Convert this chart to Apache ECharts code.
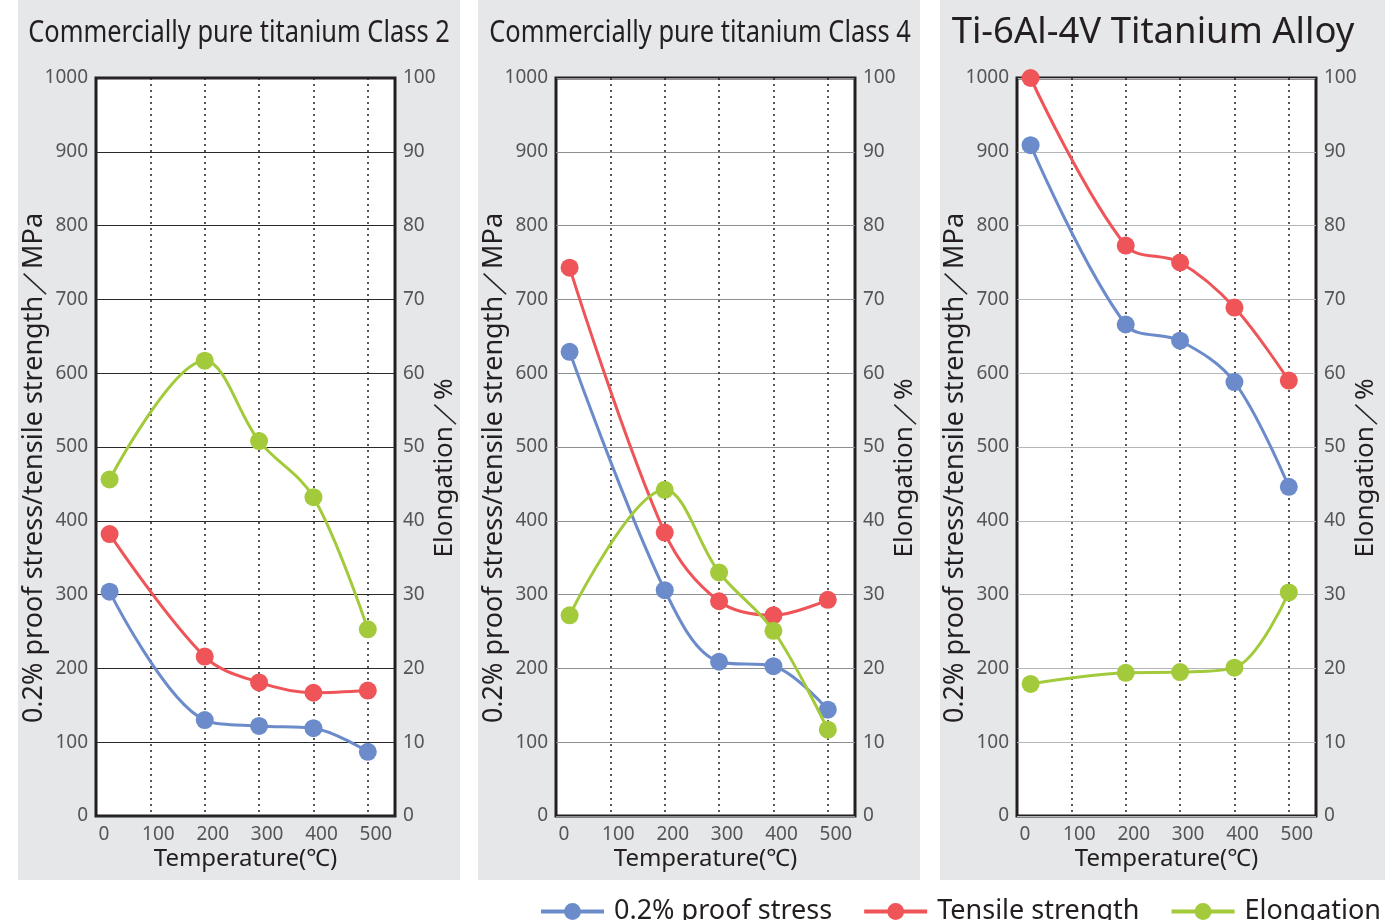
<!DOCTYPE html>
<html><head><meta charset="utf-8">
<script src="https://cdn.jsdelivr.net/npm/echarts@6/dist/echarts.min.js"></script>
<style>html,body{margin:0;padding:0;background:#fff}#c{width:1385px;height:920px}</style>
</head><body><div id="c"></div>
<script>
const temps = [25, 200, 300, 400, 500];
const titles = ['Commercially pure titanium Class 2', 'Commercially pure titanium Class 4', 'Ti-6Al-4V Titanium Alloy'];
const seriesNames = ['0.2% proof stress', 'Tensile strength', 'Elongation'];
// Class 2
const proof2 = [304, 130, 122, 119, 87];
const tensile2 = [382, 216, 181, 167, 170];
const elong2 = [45.6, 61.7, 50.8, 43.2, 25.3];
// Class 4
const proof4 = [629, 306, 209, 203, 144];
const tensile4 = [743, 384, 291, 272, 293];
const elong4 = [27.2, 44.2, 33.0, 25.1, 11.7];
// Ti-6Al-4V
const proofA = [909, 666, 644, 588, 446];
const tensileA = [1000, 773, 750, 689, 590];
const elongA = [17.9, 19.4, 19.5, 20.1, 30.3];
const xTicks = [0, 100, 200, 300, 400, 500];
const leftTicks = [0, 100, 200, 300, 400, 500, 600, 700, 800, 900, 1000];
const rightTicks = [0, 10, 20, 30, 40, 50, 60, 70, 80, 90, 100];

const panels = [
  {proof: proof2, tensile: tensile2, elong: elong2},
  {proof: proof4, tensile: tensile4, elong: elong4},
  {proof: proofA, tensile: tensileA, elong: elongA}
];
const colors = ['#6B8BCB', '#EE5458', '#A2CA3A'];
const gridLefts = [96, 556, 1017];
const hLineColors = ['#2a2a2a', '#8c8f93', '#b3b7bb'];
const bgLefts = [18, 478, 940];
const bgWidths = [442, 442, 445];
const titleCenters = [239, 700, 1153];

const chart = echarts.init(document.getElementById('c'));
const grids = [], xAxes = [], yAxes = [], series = [], graphics = [];
const labelFont = 'Noto Sans, DejaVu Sans, sans-serif';

panels.forEach((p, i) => {
  graphics.push({type: 'rect', left: bgLefts[i], top: 0, shape: {width: bgWidths[i], height: 880}, style: {fill: '#E6E7E9'}, z: -10});
  graphics.push({
    type: 'text', x: titleCenters[i], y: 33, scaleX: i === 2 ? 1 : 0.848, z: 10,
    style: {text: titles[i], textAlign: 'center', textVerticalAlign: 'middle',
      font: (i === 2 ? '36.5px' : '30px') + ' "Noto Sans", "DejaVu Sans", sans-serif', fill: '#231f20'}
  });
  grids.push({left: gridLefts[i], top: 78, width: 299, height: 738, show: true, backgroundColor: '#fff', borderColor: '#231f20', borderWidth: 3, z: 0});
  xAxes.push({
    type: 'value', gridIndex: i, min: 0, max: 550, interval: 100,
    name: 'Temperature(℃)', nameLocation: 'middle', nameGap: 31, nameMoveOverlap: false,
    nameTextStyle: {fontFamily: labelFont, fontSize: 24, color: '#231f20'},
    axisLine: {show: false}, axisTick: {show: false},
    axisLabel: {fontFamily: labelFont, fontSize: 19, color: '#555', margin: 9, padding: [0, 0, 0, 16],
      formatter: v => xTicks.includes(v) ? String(v) : ''},
    splitLine: {show: true, lineStyle: {color: '#231f20', type: [2, 4], width: 1.5}}
  });
  yAxes.push({
    type: 'value', gridIndex: i, min: 0, max: 1000, interval: 100, position: 'left',
    name: '0.2% proof stress/tensile strength／MPa', nameLocation: 'middle', nameGap: 48, nameMoveOverlap: false,
    nameTextStyle: {fontFamily: labelFont, fontSize: 27, color: '#231f20', padding: [0, 42, 0, 0]},
    axisLine: {show: false}, axisTick: {show: false},
    axisLabel: {fontFamily: labelFont, fontSize: 19, color: '#555', margin: 8,
      formatter: v => leftTicks.includes(v) ? String(v) : ''},
    splitLine: {show: true, lineStyle: {color: hLineColors[i], width: 1.2}}
  });
  yAxes.push({
    type: 'value', gridIndex: i, min: 0, max: 100, interval: 10, position: 'right',
    name: 'Elongation／%', nameLocation: 'middle', nameGap: 37, nameMoveOverlap: false,
    nameTextStyle: {fontFamily: labelFont, fontSize: 26, color: '#231f20', padding: [0, 42, 0, 0]},
    axisLine: {show: false}, axisTick: {show: false},
    axisLabel: {fontFamily: labelFont, fontSize: 19, color: '#555', margin: 8,
      formatter: v => rightTicks.includes(v) ? String(v) : ''},
    splitLine: {show: false}
  });
  const sets = [p.proof, p.tensile, p.elong];
  sets.forEach((vals, k) => {
    series.push({
      name: seriesNames[k], type: 'line', xAxisIndex: i, yAxisIndex: k === 2 ? 2 * i + 1 : 2 * i,
      data: temps.map((t, j) => [t, vals[j]]), smooth: 0.35,
      symbol: 'circle', symbolSize: 18, showSymbol: true,
      lineStyle: {color: colors[k], width: 3}, itemStyle: {color: colors[k]},
      z: 3 + k, animation: false
    });
  });
});

chart.setOption({
  animation: false,
  graphic: graphics,
  grid: grids,
  xAxis: xAxes,
  yAxis: yAxes,
  series: series,
  legend: {
    data: seriesNames, left: 534, width: 900, top: 893, itemWidth: 63, itemHeight: 21, itemGap: 30,
    lineStyle: {width: 4},
    textStyle: {fontFamily: labelFont, fontSize: 27, color: '#231f20', padding: [0, 0, 0, 5]}
  }
});
</script></body></html>
